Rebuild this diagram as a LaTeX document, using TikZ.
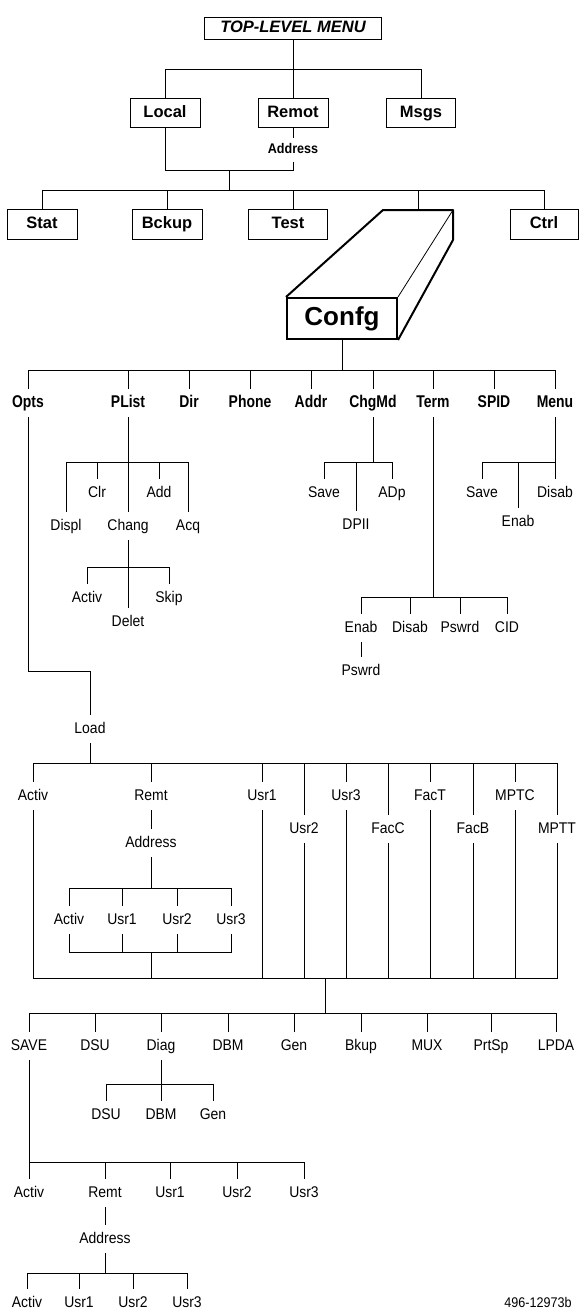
\documentclass[tikz,border=0pt]{standalone}
\usepackage{fontspec}
\setmainfont{Liberation Sans}
\newfontfamily\condfont[FakeStretch=0.9]{Liberation Sans}
\newfontfamily\condbold[FakeStretch=0.82]{Liberation Sans}
\usepackage{tikz}
\tikzset{
  wire/.style={line width=0.8pt},
  mbox/.style={draw,line width=1pt,font=\fontsize{16.5}{18}\selectfont\bfseries,text height=12pt,text depth=3.5pt,minimum height=29pt,inner sep=0pt},
  lbl/.style={font=\condfont\fontsize{15.5}{17}\selectfont,text height=12pt,text depth=3.5pt,inner xsep=2pt,inner ysep=6.5pt},
  blbl/.style={lbl,font=\condbold\bfseries\fontsize{17}{19}\selectfont},
  slbl/.style={lbl,font=\condfont\bfseries\fontsize{14}{16}\selectfont,text height=10pt,text depth=3pt,inner ysep=5pt}}

\begin{document}
\begin{tikzpicture}[x=1pt,y=-1pt]
\useasboundingbox (0,0) rectangle (579,1312);
\node[mbox,minimum width=177pt,minimum height=22pt,font=\fontsize{16.5}{18}\selectfont\bfseries\itshape] (top) at (293,28) {TOP-LEVEL MENU};
\foreach \nm/\xx/\ww/\tx in {local/165/70/Local, remot/293/70/Remot, msgs/421/69/Msgs}
  \node[mbox,minimum width=\ww pt] (\nm) at (\xx,113) {\tx};
\node[slbl] (raddr) at (293,150) {Address};
\coordinate (j0) at (293,69);
\coordinate (j1) at (229,170);
\coordinate (j2) at (229,190);
\draw[wire] (top) -- (j0) (j0) -| (local) (j0) -| (msgs) (j0) -- (remot) (remot) -- (raddr)
  (local) |- (j1) (raddr) |- (j1) (j1) -- (j2);
\foreach \nm/\xx/\ww/\tx in {stat/42/70/Stat, bckup/167/70/Bckup, test/288/79/Test, ctrl/544/68/Ctrl}
  \node[mbox,minimum width=\ww pt,minimum height=30pt] (\nm) at (\xx,224) {\tx};
\coordinate (cfgtop) at (418,210);
\draw[wire] (j2) -| (stat) (j2) -| (bckup) (j2) -| (cfgtop) (j2) -| (ctrl) (j2 -| remot) -- (test.north -| remot);
\node[draw,line width=2pt,minimum width=110pt,minimum height=41pt,inner sep=0pt,font=\fontsize{26}{28}\selectfont\bfseries] (confg) at (342,318.5) {Confg};
\coordinate (cbl) at (383,210);
\coordinate (cbr) at (453,210);
\coordinate (cbd) at (453,240);
\draw[line width=2pt,line join=round] (confg.north west) -- (cbl) -- (cbr) -- (cbd) -- (confg.south east);
\draw[wire] (confg.north east) -- (cbr);
\coordinate (j3) at (342,370);
\draw[wire] (confg) -- (j3);
\foreach \nm/\xx/\tx in {opts/28/Opts, plist/128/PList, dir/189/Dir, phone/250/Phone, addr/311/Addr, chgmd/373/ChgMd, term/433/Term, spid/494/SPID, menu/555/Menu}{
  \node[blbl] (\nm) at (\xx,403) {\tx};
  \draw[wire] (j3) -| (\nm);}
\coordinate (jp) at (128,462);
\draw[wire] (plist) -- (jp);
\foreach \nm/\xx/\yy/\tx in {displ/66/526/Displ, clr/97/493/Clr, chang/128/526/Chang, add/159/493/Add, acq/188/526/Acq}{
  \node[lbl] (\nm) at (\xx,\yy) {\tx};
  \draw[wire] (jp) -| (\nm);}
\coordinate (jc) at (128,567);
\draw[wire] (chang) -- (jc);
\foreach \nm/\xx/\yy/\tx in {cactiv/87/598/Activ, delet/128/622/Delet, cskip/169/598/Skip}{
  \node[lbl] (\nm) at (\xx,\yy) {\tx};
  \draw[wire] (jc) -| (\nm);}
\coordinate (jm) at (373,462);
\draw[wire] (chgmd) -- (jm);
\foreach \nm/\xx/\yy/\tx in {msave/324/493/Save, dpii/356/525/DPII, adp/392/493/ADp}{
  \node[lbl] (\nm) at (\xx,\yy) {\tx};
  \draw[wire] (jm) -| (\nm);}
\coordinate (jn) at (555,462);
\draw[wire] (menu) -- (jn);
\foreach \nm/\xx/\yy/\tx in {nsave/482/493/Save, nenab/518/522/Enab, ndisab/555/493/Disab}{
  \node[lbl] (\nm) at (\xx,\yy) {\tx};
  \draw[wire] (jn) -| (\nm);}
\coordinate (jt) at (433,597);
\draw[wire] (term) -- (jt);
\foreach \nm/\xx/\tx in {tenab/361/Enab, tdisab/410/Disab, tpswrd/460/Pswrd, tcid/507/CID}{
  \node[lbl] (\nm) at (\xx,628) {\tx};
  \draw[wire] (jt) -| (\nm);}
\node[lbl] (epswrd) at (361,671) {Pswrd};
\draw[wire] (tenab) -- (epswrd);
\node[lbl] (load) at (90,729) {Load};
\coordinate (jo) at (90,671);
\draw[wire] (opts) |- (jo) -- (load);
\coordinate (jl) at (90,763);
\coordinate (jd) at (325,978);
\draw[wire] (load) -- (jl);
\foreach \nm/\xx/\yy/\tx in {lactiv/33/796/Activ, lremt/151/796/Remt, lusr1/262/796/Usr1, lusr2/304/829/Usr2, lusr3/346/796/Usr3,
  lfacc/388/829/FacC, lfact/430/796/FacT, lfacb/473/829/FacB, lmptc/515/796/MPTC, lmptt/557/829/MPTT}{
  \node[lbl] (\nm) at (\xx,\yy) {\tx};
  \draw[wire] (jl) -| (\nm);}
\foreach \nm in {lactiv,lusr1,lusr2,lusr3,lfacc,lfact,lfacb,lmptc,lmptt}
  \draw[wire] (\nm) |- (jd);
\node[lbl] (laddr) at (151,843) {Address};
\draw[wire] (lremt) -- (laddr);
\coordinate (ja) at (151,888);
\coordinate (jb) at (151,952);
\draw[wire] (laddr) -- (ja);
\foreach \nm/\xx/\tx in {aactiv/69/Activ, ausr1/122/Usr1, ausr2/177/Usr2, ausr3/231/Usr3}{
  \node[lbl] (\nm) at (\xx,920) {\tx};
  \draw[wire] (ja) -| (\nm) (\nm) |- (jb);}
\draw[wire] (jb) -- (jb |- jd);
\coordinate (je) at (325,1013);
\draw[wire] (jd) -- (je);
\foreach \nm/\xx/\tx in {save/29/SAVE, dsu/95/DSU, diag/161/Diag, dbm/228/DBM, gen/294/Gen, bkup/361/Bkup, mux/427/MUX, prtsp/491/PrtSp, lpda/556/LPDA}{
  \node[lbl] (\nm) at (\xx,1046) {\tx};
  \draw[wire] (je) -| (\nm);}
\coordinate (jg) at (161,1084);
\draw[wire] (diag) -- (jg);
\foreach \nm/\xx/\tx in {gdsu/106/DSU, gdbm/161/DBM, ggen/213/Gen}{
  \node[lbl] (\nm) at (\xx,1115) {\tx};
  \draw[wire] (jg) -| (\nm);}
\coordinate (js) at (29,1162);
\draw[wire] (save) -- (js);
\foreach \nm/\xx/\tx in {sactiv/29/Activ, sremt/105/Remt, susr1/170/Usr1, susr2/237/Usr2, susr3/304/Usr3}{
  \node[lbl] (\nm) at (\xx,1193) {\tx};
  \draw[wire] (js) -| (\nm);}
\node[lbl] (saddr) at (105,1239) {Address};
\draw[wire] (sremt) -- (saddr);
\coordinate (jr) at (105,1273);
\draw[wire] (saddr) -- (jr);
\foreach \nm/\xx/\tx in {ractiv/27/Activ, rusr1/79/Usr1, rusr2/133/Usr2, rusr3/187/Usr3}{
  \node[lbl] (\nm) at (\xx,1303) {\tx};
  \draw[wire] (jr) -| (\nm);}
\node[lbl,font=\condfont\fontsize{14}{16}\selectfont] (fignum) at (538,1303) {496-12973b};
\end{tikzpicture}
\end{document}
